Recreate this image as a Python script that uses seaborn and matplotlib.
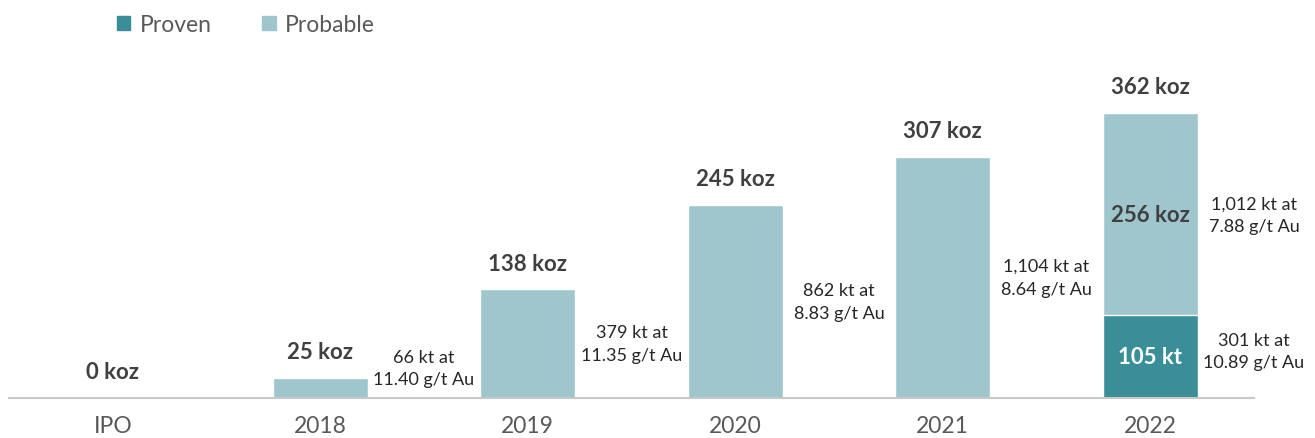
import matplotlib
matplotlib.use("Agg")
import matplotlib.pyplot as plt
import seaborn as sns
import pandas as pd
from matplotlib.patches import Patch

# reserve data
years = ["IPO", "2018", "2019", "2020", "2021", "2022"]
total_koz = [0, 25, 138, 245, 307, 362]
proven_koz = [0, 0, 0, 0, 0, 105]
probable_koz = [0, 25, 138, 245, 307, 256]
probable_note = ["", "66 kt at\n11.40 g/t Au", "379 kt at\n11.35 g/t Au",
                 "862 kt at\n8.83 g/t Au", "1,104 kt at\n8.64 g/t Au",
                 "1,012 kt at\n7.88 g/t Au"]
proven_note = ["", "", "", "", "", "301 kt at\n10.89 g/t Au"]

PROVEN = "#3A8E98"
PROBABLE = "#9EC6CC"
DARK = "#404040"
GREY = "#595959"

sns.set_theme(style="white")
plt.rcParams["font.family"] = ["Lato", "DejaVu Sans"]

df = pd.DataFrame({"Year": years, "Total": total_koz, "Proven": proven_koz})

fig = plt.figure(figsize=(13.15, 4.39), dpi=100)
ax = fig.add_axes([9 / 1315, 40 / 439, 1245 / 1315, 339 / 439])

sns.barplot(data=df, x="Year", y="Total", color=PROBABLE, width=0.46,
            saturation=1, ax=ax)
sns.barplot(data=df, x="Year", y="Proven", color=PROVEN, width=0.46,
            saturation=1, ax=ax)

ax.set_xlim(-0.5, 5.5)
ax.set_ylim(0, 431)
ax.set_xlabel("")
ax.set_ylabel("")
ax.set_yticks([])
for s in ["top", "right", "left"]:
    ax.spines[s].set_visible(False)
ax.spines["bottom"].set_color("#C8C8C8")
ax.spines["bottom"].set_linewidth(1.5)
ax.tick_params(axis="x", length=0, pad=12, labelsize=16.5, labelcolor=GREY)

for i, tot in enumerate(total_koz):
    ax.annotate(f"{tot} koz", (i, tot), xytext=(0, 19), textcoords="offset points",
                ha="center", va="center", fontsize=16, fontweight="bold", color=DARK)

for i in range(len(years)):
    if probable_note[i]:
        y = max(proven_koz[i] + probable_koz[i] / 2, 38)
        ax.text(i + 0.5, y, probable_note[i], ha="center", va="center",
                fontsize=13, color="#262626", linespacing=1.5, clip_on=False)
    if proven_note[i]:
        ax.text(i + 0.5, 60, proven_note[i], ha="center", va="center",
                fontsize=13, color="#262626", linespacing=1.5, clip_on=False)

# labels inside the 2022 bar
ax.text(5, proven_koz[5] + probable_koz[5] / 2, f"{probable_koz[5]} koz",
        ha="center", va="center", fontsize=16, fontweight="bold", color=DARK)
ax.text(5, 53, f"{proven_koz[5]} kt", ha="center", va="center",
        fontsize=16, fontweight="bold", color="white")

handles = [Patch(color=PROVEN, label="Proven"), Patch(color=PROBABLE, label="Probable")]
fig.legend(handles=handles, loc="upper left", bbox_to_anchor=(96 / 1315, 1.013),
           ncol=2, frameon=False, fontsize=16.5, handlelength=0.6, handleheight=0.6,
           handletextpad=0.4, columnspacing=2.2, labelcolor=GREY)

fig.savefig("out.png", dpi=100, facecolor="white")
